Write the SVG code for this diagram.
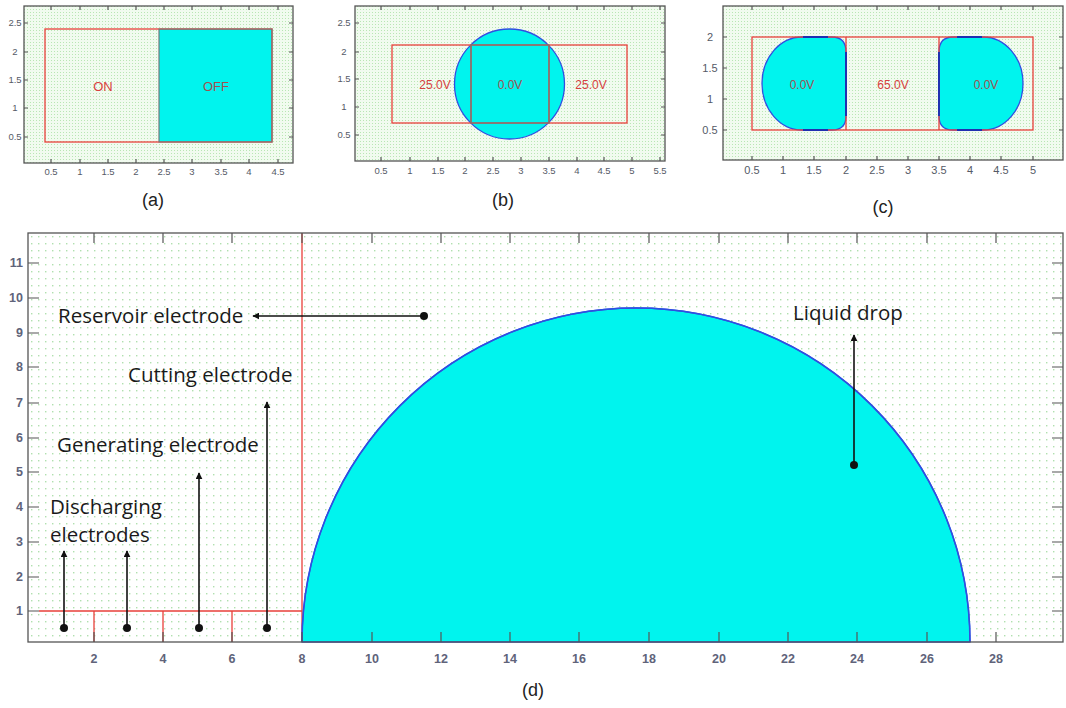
<svg xmlns="http://www.w3.org/2000/svg" width="1066" height="708" viewBox="0 0 1066 708">
<defs>
<pattern id="gridS" width="3" height="3" patternUnits="userSpaceOnUse"><rect width="3" height="3" fill="#f1fbef"/><rect width="1" height="1" fill="#b9e6b4"/></pattern>
<pattern id="gridL" width="7" height="7" patternUnits="userSpaceOnUse" x="28" y="233"><rect width="7" height="7" fill="#ffffff"/><rect x="3" y="3" width="1.4" height="1.4" fill="#b0e0ae"/></pattern>
<marker id="ah" viewBox="0 0 10 10" refX="9" refY="5" markerWidth="7" markerHeight="7" markerUnits="userSpaceOnUse" orient="auto"><path d="M0,0 L10,5 L0,10 Z" fill="#111"/></marker>
<style>
.box{fill:none;stroke:#555;stroke-width:1.3}
.tk{stroke:#555;stroke-width:1.2}
.tl{font-family:"Liberation Sans",Arial,sans-serif;font-size:9.5px;fill:#555a66;text-anchor:middle}
.tlb{font-family:"Liberation Sans",Arial,sans-serif;font-size:12.5px;font-weight:bold;fill:#60637a;text-anchor:middle}
.el{fill:none;stroke:#e8403a;stroke-width:1.3}
.lv{font-family:"Liberation Sans",Arial,sans-serif;font-size:12px;fill:#d84040;text-anchor:middle}
.lvd{font-family:"Liberation Sans",Arial,sans-serif;font-size:12px;fill:#a05050;text-anchor:middle}
.drop{fill:#00f4ee;stroke:#2f4fe0;stroke-width:1.3}
.cap{font-family:"Liberation Sans",Arial,sans-serif;font-size:18px;fill:#222;text-anchor:middle}
.ann{font-family:"Open Sans","Liberation Sans",sans-serif;font-size:20.5px;fill:#1a1a1a}
.arr{stroke:#111;stroke-width:1.6;fill:none;marker-end:url(#ah)}
.dot{fill:#111}
</style>
</defs>

<g id="panel-a">
<rect x="24" y="6" width="269" height="157" fill="url(#gridS)"/>
<rect x="159" y="29" width="113" height="113" fill="#00f4ee"/>
<rect x="45" y="29" width="227" height="113" class="el"/>
<path d="M159,29 H272 V142 H159 Z" fill="none" stroke="#777" stroke-width="1.2"/>
<text x="103" y="91" class="lv" style="font-size:13px">ON</text>
<text x="216" y="91" class="lvd" style="font-size:13px">OFF</text>
<rect x="24" y="6" width="269" height="157" class="box"/>
<g class="tk">
<path d="M51,163v-4M80,163v-4M108,163v-4M136,163v-4M164,163v-4M192,163v-4M221,163v-4M249,163v-4M278,163v-4"/>
<path d="M51,6v4M80,6v4M108,6v4M136,6v4M164,6v4M192,6v4M221,6v4M249,6v4M278,6v4"/>
<path d="M24,23h4M24,52h4M24,80h4M24,108h4M24,137h4M293,23h-4M293,52h-4M293,80h-4M293,108h-4M293,137h-4"/>
</g>
<g class="tl">
<text x="51" y="175">0.5</text><text x="80" y="175">1</text><text x="108" y="175">1.5</text><text x="136" y="175">2</text><text x="164" y="175">2.5</text><text x="192" y="175">3</text><text x="221" y="175">3.5</text><text x="249" y="175">4</text><text x="278" y="175">4.5</text>
<text x="15" y="26">2.5</text><text x="15" y="55">2</text><text x="15" y="83">1.5</text><text x="15" y="111">1</text><text x="15" y="140">0.5</text>
</g>
<text x="153" y="206" class="cap">(a)</text>
</g>

<g id="panel-b">
<rect x="355" y="6" width="310" height="155" fill="url(#gridS)"/>
<circle cx="509.5" cy="84" r="55" class="drop"/>
<rect x="392" y="45" width="235" height="78" class="el"/>
<line x1="471" y1="45" x2="471" y2="123" stroke="#e8403a" stroke-width="1.3"/>
<line x1="549" y1="45" x2="549" y2="123" stroke="#e8403a" stroke-width="1.3"/>
<path d="M471,45 H549 V123 H471 Z" fill="none" stroke="#777" stroke-width="1.2"/>
<text x="435" y="89" class="lv">25.0V</text>
<text x="510" y="89" class="lvd">0.0V</text>
<text x="591" y="89" class="lv">25.0V</text>
<rect x="355" y="6" width="310" height="155" class="box"/>
<g class="tk">
<path d="M381,161v-4M410,161v-4M438,161v-4M465,161v-4M493,161v-4M521,161v-4M549,161v-4M577,161v-4M604,161v-4M632,161v-4M660,161v-4"/>
<path d="M381,6v4M410,6v4M438,6v4M465,6v4M493,6v4M521,6v4M549,6v4M577,6v4M604,6v4M632,6v4M660,6v4"/>
<path d="M355,23h4M355,52h4M355,79h4M355,107h4M355,135h4M665,23h-4M665,52h-4M665,79h-4M665,107h-4M665,135h-4"/>
</g>
<g class="tl">
<text x="381" y="174">0.5</text><text x="410" y="174">1</text><text x="438" y="174">1.5</text><text x="465" y="174">2</text><text x="493" y="174">2.5</text><text x="521" y="174">3</text><text x="549" y="174">3.5</text><text x="577" y="174">4</text><text x="604" y="174">4.5</text><text x="632" y="174">5</text><text x="660" y="174">5.5</text>
<text x="344" y="26">2.5</text><text x="344" y="55">2</text><text x="344" y="82">1.5</text><text x="344" y="110">1</text><text x="344" y="138">0.5</text>
</g>
<text x="503" y="206" class="cap">(b)</text>
</g>

<g id="panel-c">
<rect x="723" y="6" width="340" height="154" fill="url(#gridS)"/>
<path d="M802,37 L832,37 Q846,37 846,52 L846,116 Q846,130 832,130 L802,130 A40,46.5 0 0 1 802,37 Z" class="drop"/>
<path d="M983,37 L953,37 Q939,37 939,52 L939,116 Q939,130 953,130 L983,130 A40,46.5 0 0 0 983,37 Z" class="drop"/>
<rect x="752" y="37" width="281" height="93" class="el"/>
<line x1="846" y1="37" x2="846" y2="130" stroke="#e8403a" stroke-width="1.3"/>
<line x1="939" y1="37" x2="939" y2="130" stroke="#e8403a" stroke-width="1.3"/>
<path d="M846,52V116M939,52V116M803,37H828M803,130H828M957,37H982M957,130H982" stroke="#2030b0" stroke-width="2" fill="none"/>
<text x="802" y="89" class="lvd">0.0V</text>
<text x="893" y="89" class="lv">65.0V</text>
<text x="986" y="89" class="lvd">0.0V</text>
<rect x="723" y="6" width="340" height="154" class="box"/>
<g class="tk">
<path d="M752,160v-4M783,160v-4M814,160v-4M846,160v-4M877,160v-4M908,160v-4M939,160v-4M970,160v-4M1001,160v-4M1033,160v-4"/>
<path d="M752,6v4M783,6v4M814,6v4M846,6v4M877,6v4M908,6v4M939,6v4M970,6v4M1001,6v4M1033,6v4"/>
<path d="M723,37h4M723,68h4M723,99h4M723,130h4M1063,37h-4M1063,68h-4M1063,99h-4M1063,130h-4"/>
</g>
<g class="tl" style="font-size:11px">
<text x="752" y="174">0.5</text><text x="783" y="174">1</text><text x="814" y="174">1.5</text><text x="846" y="174">2</text><text x="877" y="174">2.5</text><text x="908" y="174">3</text><text x="939" y="174">3.5</text><text x="970" y="174">4</text><text x="1001" y="174">4.5</text><text x="1033" y="174">5</text>
<text x="710" y="41">2</text><text x="710" y="72">1.5</text><text x="710" y="103">1</text><text x="710" y="134">0.5</text>
</g>
<text x="883" y="213" class="cap">(c)</text>
</g>

<g id="panel-d">
<rect x="28" y="233" width="1035" height="409" fill="url(#gridL)"/>
<path d="M302,642 A334,334 0 0 1 970,642 Z" class="drop"/>
<path d="M302,233V642M39,611H302M94,611V642M163,611V642M232,611V642" fill="none" stroke="#e8403a" stroke-width="1.3"/>
<path d="M302,642 A334,334 0 0 1 970,642" fill="none" stroke="#2f4fe0" stroke-width="1.6"/>
<rect x="28" y="233" width="1035" height="409" class="box"/>
<g class="tk" stroke-width="1.5">
<path d="M94,642v-10M163,642v-10M232,642v-10M302,642v-10M372,642v-10M441,642v-10M510,642v-10M579,642v-10M649,642v-10M719,642v-10M788,642v-10M857,642v-10M927,642v-10M996,642v-10"/>
<path d="M94,233v10M163,233v10M232,233v10M302,233v10M372,233v10M441,233v10M510,233v10M579,233v10M649,233v10M719,233v10M788,233v10M857,233v10M927,233v10M996,233v10"/>
<path d="M28,611h11M28,577h11M28,542h11M28,507h11M28,472h11M28,438h11M28,403h11M28,367h11M28,333h11M28,298h11M28,263h11"/>
<path d="M1063,611h-11M1063,577h-11M1063,542h-11M1063,507h-11M1063,472h-11M1063,438h-11M1063,403h-11M1063,367h-11M1063,333h-11M1063,298h-11M1063,263h-11"/>
</g>
<g class="tlb">
<text x="94" y="663">2</text><text x="163" y="663">4</text><text x="232" y="663">6</text><text x="302" y="663">8</text><text x="372" y="663">10</text><text x="441" y="663">12</text><text x="510" y="663">14</text><text x="579" y="663">16</text><text x="649" y="663">18</text><text x="719" y="663">20</text><text x="788" y="663">22</text><text x="857" y="663">24</text><text x="927" y="663">26</text><text x="996" y="663">28</text>
</g>
<g class="tlb" style="text-anchor:end">
<text x="23" y="615">1</text><text x="23" y="581">2</text><text x="23" y="546">3</text><text x="23" y="511">4</text><text x="23" y="476">5</text><text x="23" y="442">6</text><text x="23" y="407">7</text><text x="23" y="371">8</text><text x="23" y="337">9</text><text x="23" y="302">10</text><text x="23" y="267">11</text>
</g>
<text x="533" y="696" class="cap">(d)</text>
</g>

<g id="label-reservoir"><text x="58" y="323" class="ann">Reservoir electrode</text></g>
<g id="label-cutting"><text x="128" y="382" class="ann">Cutting electrode</text></g>
<g id="label-generating"><text x="57" y="452" class="ann">Generating electrode</text></g>
<g id="label-discharging"><text x="50" y="514" class="ann">Discharging</text><text x="50" y="542" class="ann">electrodes</text></g>
<g id="label-liquid"><text x="793" y="320" class="ann">Liquid drop</text></g>

<g id="connectors">
<line x1="424" y1="316" x2="253" y2="316" class="arr"/>
<line x1="267" y1="628" x2="267" y2="402" class="arr"/>
<line x1="199" y1="628" x2="199" y2="473" class="arr"/>
<line x1="64" y1="628" x2="64" y2="551" class="arr"/>
<line x1="127" y1="628" x2="127" y2="551" class="arr"/>
<line x1="854" y1="465" x2="854" y2="335" class="arr"/>
<circle cx="424" cy="316" r="4" class="dot"/>
<circle cx="267" cy="628" r="4" class="dot"/>
<circle cx="199" cy="628" r="4" class="dot"/>
<circle cx="64" cy="628" r="4" class="dot"/>
<circle cx="127" cy="628" r="4" class="dot"/>
<circle cx="854" cy="465" r="4" class="dot"/>
</g>
</svg>
